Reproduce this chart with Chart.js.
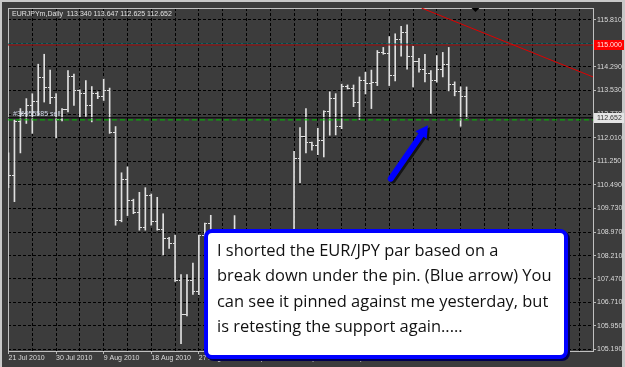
<!DOCTYPE html>
<html>
<head>
<meta charset="utf-8">
<script src="https://cdn.jsdelivr.net/npm/chart.js@4.4.1/dist/chart.umd.min.js"></script>
<style>
html,body{margin:0;padding:0;background:#3c3c3c;overflow:hidden;}
#wrap{position:relative;width:625px;height:367px;}
canvas{display:block;}
#note{position:absolute;left:204px;top:229px;width:364px;height:130px;box-sizing:border-box;
  border:4px solid #0000ff;border-radius:8px;background:#ffffff;box-shadow:2px 2px 0 #000050;
  font-family:"Open Sans",sans-serif;color:#111;padding:4px 0 0 9px;line-height:25.3px;font-size:15.5px;white-space:nowrap;}
</style>
</head>
<body>
<div id="wrap">
  <canvas id="c" width="625" height="367"></canvas>
  <div id="note"></div>
</div>
<script>
// ---------------- data ----------------
const SYMBOL = 'EURJPYm,Daily';
const OPEN  = [110.56,110.79,112.53,112.79,113.05,113.17,113.96,113.64,113.32,112.60,
               112.92,113.97,113.53,113.42,113.05,113.45,113.33,113.53,112.17,109.35,
               110.65,109.98,109.61,109.13,110.14,109.31,109.06,108.76,108.60,107.41,
               106.30,107.41,107.06,108.85,109.23,108.72,108.08,107.96,108.65,108.90,
               108.70,107.80,107.40,108.30,108.10,108.50,108.40,107.60,107.30,111.33,
               112.06,111.84,111.77,111.93,112.84,113.27,112.38,113.65,113.61,113.14,
               113.87,113.77,113.80,114.76,114.74,114.03,115.17,115.40,114.64,114.47,
               114.22,114.09,113.84,114.22,114.38,113.74,113.49,113.340];
const HIGH  = [111.52,112.58,112.95,113.27,113.43,114.38,114.70,114.19,113.43,112.95,
               114.17,114.06,113.55,113.85,113.66,113.49,113.90,113.61,112.37,110.88,
               111.07,110.03,110.25,110.40,110.20,110.09,109.56,108.80,108.87,107.60,
               107.60,107.97,108.87,109.26,109.51,108.91,108.65,108.81,109.50,108.95,
               108.80,108.30,108.50,108.80,108.70,108.60,108.80,108.20,111.57,112.34,
               112.95,111.87,112.31,112.88,113.49,113.43,113.74,113.71,113.71,113.97,
               114.12,114.19,114.82,114.92,115.27,115.36,115.60,115.65,114.96,114.57,
               114.70,114.17,114.66,114.76,114.92,113.81,113.65,113.647];
const LOW   = [110.40,109.95,111.52,112.47,112.15,112.73,113.16,113.11,112.00,112.55,
               112.84,113.05,112.69,112.70,112.52,113.27,113.21,112.15,109.19,109.30,
               109.50,109.56,109.03,109.03,109.19,109.03,108.23,108.44,107.38,105.37,
               106.27,106.96,106.95,108.72,108.65,107.96,107.54,107.70,108.34,108.60,
               107.50,107.20,107.00,107.90,107.60,108.30,107.40,106.90,107.00,110.56,
               111.52,111.61,111.46,111.39,112.09,112.10,112.30,113.58,113.01,112.60,
               113.42,112.95,113.69,114.70,113.69,113.84,114.64,114.22,113.65,114.12,
               113.81,112.79,113.80,113.97,113.52,113.36,112.38,112.625];
const CLOSE = [110.79,112.53,112.79,113.05,113.17,113.96,113.64,113.32,112.60,112.92,
               113.97,113.53,113.42,113.05,113.45,113.33,113.53,112.17,109.35,110.65,
               109.98,109.61,109.13,110.14,109.31,109.06,108.76,108.60,107.41,106.30,
               107.41,107.06,108.85,109.23,108.72,108.08,107.96,108.65,108.91,108.70,
               107.80,107.40,108.30,108.10,108.50,108.40,107.60,107.30,111.33,112.06,
               111.84,111.77,111.93,112.84,113.27,112.38,113.65,113.61,113.14,113.87,
               113.77,113.80,114.76,114.74,114.03,115.17,115.40,114.64,114.47,114.22,
               114.09,113.84,114.22,114.38,113.74,113.49,113.33,112.652];
const DATE_LABELS = ['21 Jul 2010','30 Jul 2010','9 Aug 2010','18 Aug 2010','27 Aug 2010',
                     '6 Sep 2010','15 Sep 2010','24 Sep 2010','4 Oct 2010','13 Oct 2010'];
const PRICE_TICKS = [115.81,115.05,114.29,113.53,112.77,112.01,111.25,110.49,109.73,
                     108.97,108.21,107.47,106.71,105.95,105.19];
const LEVEL_LINE  = 115.000;
const BID_PRICE   = 112.652;
const ORDER_PRICE = 112.585;
const ORDER_LABEL = '#36955585 sell';
const TREND_LINE  = [[69.42,116.19],[98.25,113.97]];
const ARROW       = [[64.25,110.69],[69.73,112.20]];
const NOTE_LINES  = ['I shorted the EUR/JPY par based on a',
                     'break down under the pin. (Blue arrow) You',
                     'can see it pinned against me yesterday, but',
                     'is retesting the support again.....'];

// ---------------- view / style ----------------
const X_MIN = -1/12, X_MAX = 98.25;
const Y_MIN = 105.136, Y_MAX = 116.191;
const PX_PER_PRICE = 31.479, PX_PER_BAR = 6;
const BARS_PER_GRID = 4, BARS_PER_LABEL = 8;
const BG = '#3c3c3c', BAR_COLOR = '#e0e0e0', AXIS_TEXT = '#dcdcdc';
const SMALL_FONT = {family:'"Liberation Sans", Arial, sans-serif', size:7, lineHeight:1};

const N = OPEN.length;
const idx = OPEN.map((_, i) => i);
const hlData = idx.map(i => ({x:i, y:[LOW[i], HIGH[i]]}));
const openData = idx.map(i => ({x:i, y:OPEN[i]}));
const closeData = idx.map(i => ({x:i, y:CLOSE[i]}));

function tickImg(left){
  const c = document.createElement('canvas'); c.width = 5; c.height = 1;
  const g = c.getContext('2d'); g.fillStyle = BAR_COLOR;
  if (left) g.fillRect(0,0,2,1); else g.fillRect(3,0,2,1);
  return c;
}
const hline = (p) => [{x:X_MIN,y:p},{x:X_MAX,y:p}];
const pxShift = 2/PX_PER_BAR, pyShift = 2/PX_PER_PRICE;

const chrome = {
  id:'chrome',
  beforeDraw(chart){
    const {ctx, width, height} = chart;
    ctx.save();
    ctx.fillStyle = BG; ctx.fillRect(0,0,width,height);
    ctx.fillStyle = '#c8c8c8';
    ctx.fillRect(0,0,width,2); ctx.fillRect(0,0,2,height);
    ctx.fillRect(width-3,0,3,height);
    ctx.restore();
  },
  beforeDatasetsDraw(chart){
    const {ctx, chartArea:a} = chart;
    ctx.save();
    ctx.strokeStyle = '#c0c0c0'; ctx.lineWidth = 1;
    ctx.strokeRect(a.left+0.5, a.top+0.5, a.right-a.left, a.bottom-a.top);
    ctx.restore();
  },
  afterDraw(chart){
    const {ctx, chartArea:a, scales:{x, y}} = chart;
    ctx.save();
    ctx.font = '7px "Liberation Sans", Arial, sans-serif';
    ctx.textBaseline = 'middle';
    ctx.fillStyle = '#e0e0e0';
    ctx.fillText(SYMBOL + '  ' + [OPEN[N-1],HIGH[N-1],LOW[N-1],CLOSE[N-1]].map(v=>v.toFixed(3)).join(' '), a.left+4, a.top+6);
    ctx.fillStyle = '#d0d8e8';
    ctx.fillText(ORDER_LABEL, a.left+5, y.getPixelForValue(ORDER_PRICE)-6);
    const yl = Math.round(y.getPixelForValue(LEVEL_LINE));
    ctx.fillStyle = '#ff0000'; ctx.fillRect(a.right+1, yl-5, 30, 10);
    ctx.fillStyle = '#ffe4e4'; ctx.fillText(LEVEL_LINE.toFixed(3), a.right+4, yl);
    const yb = Math.round(y.getPixelForValue(BID_PRICE));
    ctx.fillStyle = '#e4e4e4'; ctx.fillRect(a.right+1, yb-5, 30, 10);
    ctx.fillStyle = '#303030'; ctx.fillText(BID_PRICE.toFixed(3), a.right+4, yb);
    const sx = x.getPixelForValue(N + 0.5);
    ctx.fillStyle = '#000';
    ctx.beginPath(); ctx.moveTo(sx-4, a.top); ctx.lineTo(sx+4, a.top); ctx.lineTo(sx, a.top+4); ctx.closePath(); ctx.fill();
    ctx.restore();
  }
};

const zeroPad = (s) => { s.paddingTop = 0; s.paddingBottom = 0; s.paddingLeft = 0; s.paddingRight = 0; };

new Chart(document.getElementById('c'), {
  type:'scatter',
  data:{ datasets:[
    { type:'line', data:ARROW.map(p=>({x:p[0],y:p[1]})), borderColor:'#0000ff', borderWidth:6, borderCapStyle:'round',
      pointRadius:[0,8], pointStyle:'triangle', pointRotation:35, pointBackgroundColor:'#0000ff', pointBorderWidth:0, order:0 },
    { type:'line', data:ARROW.map(p=>({x:p[0]+pxShift,y:p[1]-pyShift})), borderColor:'#141414', borderWidth:6, borderCapStyle:'round',
      pointRadius:[0,8], pointStyle:'triangle', pointRotation:35, pointBackgroundColor:'#141414', pointBorderWidth:0, order:1 },
    { type:'line', data:TREND_LINE.map(p=>({x:p[0],y:p[1]})), borderColor:'#e00000', borderWidth:1, pointRadius:0, order:2 },
    { type:'line', data:hline(LEVEL_LINE), borderColor:'#b00000', borderWidth:1, pointRadius:0, order:3 },
    { type:'line', data:hline(LEVEL_LINE + 1/PX_PER_PRICE), borderColor:'#0a7a7a', borderWidth:1, pointRadius:0, order:3 },
    { type:'line', data:hline(BID_PRICE), borderColor:'#000000', borderWidth:1, pointRadius:0, order:3 },
    { type:'line', data:hline(ORDER_PRICE), borderColor:'#00c000', borderWidth:1, borderDash:[5,3], pointRadius:0, order:3 },
    { type:'scatter', data:openData, pointStyle:tickImg(true), pointRadius:1, order:5 },
    { type:'scatter', data:closeData, pointStyle:tickImg(false), pointRadius:1, order:5 },
    { type:'bar', data:hlData, backgroundColor:BAR_COLOR, borderWidth:0, barThickness:1, grouped:false, order:6 }
  ]},
  options:{
    responsive:false, animation:false, devicePixelRatio:1,
    layout:{ padding:{ left:3, top:3, right:0, bottom:0 } },
    plugins:{ legend:{display:false}, tooltip:{enabled:false} },
    events:[],
    scales:{
      x:{ type:'linear', min:X_MIN, max:X_MAX, offset:false, position:'bottom',
          afterBuildTicks:(s)=>{ const t=[]; for(let v=0; v<=X_MAX; v+=BARS_PER_GRID) t.push({value:v}); s.ticks=t; },
          afterFit:(s)=>{ s.height = 16; zeroPad(s); },
          grid:{ offset:false, color:'#000000', lineWidth:1, tickLength:3,
                 tickColor:(c)=> (c.tick && c.tick.value % BARS_PER_LABEL === 0 && c.tick.value/BARS_PER_LABEL < DATE_LABELS.length) ? '#b8b8b8' : 'rgba(0,0,0,0)' },
          border:{ display:false, dash:[3,2] },
          ticks:{ autoSkip:false, maxRotation:0, minRotation:0, align:'start', padding:1, color:AXIS_TEXT, font:SMALL_FONT,
                  callback:(v)=> (v % BARS_PER_LABEL === 0 && DATE_LABELS[v/BARS_PER_LABEL]) ? DATE_LABELS[v/BARS_PER_LABEL] : '' }
      },
      y:{ type:'linear', min:Y_MIN, max:Y_MAX, position:'right', beginAtZero:false,
          afterBuildTicks:(s)=>{ s.ticks = PRICE_TICKS.map(v=>({value:v})); },
          afterFit:(s)=>{ s.width = 32; zeroPad(s); },
          grid:{ color:'#000000', lineWidth:1, tickLength:3, tickColor:'#b8b8b8' },
          border:{ display:false, dash:[3,2] },
          ticks:{ autoSkip:false, padding:1, color:AXIS_TEXT, font:SMALL_FONT, callback:(v)=> Number(v).toFixed(3) }
      }
    }
  },
  plugins:[chrome]
});

const note = document.getElementById('note');
NOTE_LINES.forEach(t => { const d = document.createElement('div'); d.textContent = t; note.appendChild(d); });
const mctx = document.createElement('canvas').getContext('2d');
mctx.font = '100px "Open Sans"';
const w = mctx.measureText(NOTE_LINES[1]).width;
note.style.fontSize = (335 / w * 100).toFixed(2) + 'px';
</script>
</body>
</html>
